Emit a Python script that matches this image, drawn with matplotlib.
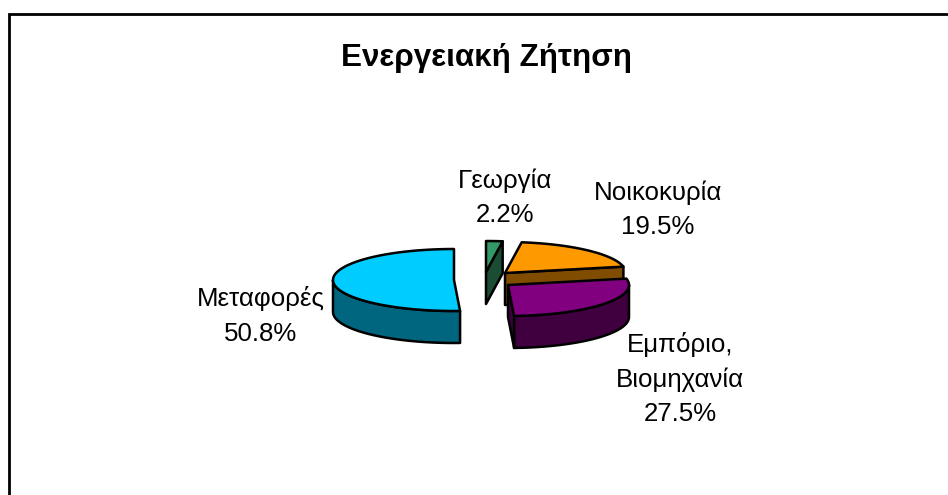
import numpy as np
import matplotlib
matplotlib.use('Agg')
import matplotlib.pyplot as plt

plt.rcParams['font.family'] = ['Liberation Sans', 'DejaVu Sans']

# order: counter-clockwise starting from the back of the pie
nombres = ['Μεταφορές', 'Εμπόριο,\nΒιομηχανία', 'Νοικοκυρία', 'Γεωργία']
valores = [50.8, 27.5, 19.5, 2.2]

colores = ['#00CCFF', '#800080', '#FF9900', '#339966']
colores_lado = ['#006680', '#400040', '#804D00', '#1A4D33']
centros = [(454, 280), (508, 285), (505, 273), (486, 272)]
pos_texto = [(261, 316), (680, 379), (658, 210), (505, 198)]

ANG_INICIO = 90
RX, RY, ALTO = 121, 31, 32


def punto(c, ang):
    a = np.radians(ang)
    return np.column_stack([c[0] + RX * np.cos(a), c[1] - RY * np.sin(a)])


def dibujar_porcion(ax, c, a0, a1, col, col_lado):
    borde = punto(c, np.linspace(a0, a1, 80))

    # outer wall, only the part facing the viewer
    a_min, a_max = max(a0, 180), min(a1, 360)
    if a_max > a_min:
        pared = punto(c, np.linspace(a_min, a_max, 60))
        abajo = pared + [0, ALTO]
        ax.fill(*np.vstack([pared, abajo[::-1]]).T, fc=col_lado, ec='black', lw=1.8, joinstyle='round')

    # cut face that looks towards the viewer
    if np.cos(np.radians(a0)) > 0.01:
        r = punto(c, a0)[0]
        cara = np.array([c, r, r + [0, ALTO], np.array(c) + [0, ALTO]])
        ax.fill(*cara.T, fc=col_lado, ec='black', lw=1.8, joinstyle='round')

    ax.fill(*np.vstack([[c], borde]).T, fc=col, ec='black', lw=1.8, joinstyle='round')


fig = plt.figure(figsize=(9.48, 4.95), dpi=100)
ax = fig.add_axes([0, 0, 1, 1])
ax.set_xlim(0, 948)
ax.set_ylim(495, 0)
ax.axis('off')

# outer frame, cropped on the right and bottom
ax.plot([9, 9, 948], [495, 14, 14], color='black', lw=2, solid_joinstyle='miter')

limites = ANG_INICIO + np.concatenate([[0], np.cumsum(valores)]) * 3.6
for i in [3, 2, 1, 0]:
    dibujar_porcion(ax, centros[i], limites[i], limites[i + 1], colores[i], colores_lado[i])

for nombre, v, p in zip(nombres, valores, pos_texto):
    ax.text(p[0], p[1], f'{nombre}\n{v:.1f}%', ha='center', va='center', fontsize=18.6,
            color='black', linespacing=1.53)

ax.text(487, 58, 'Ενεργειακή Ζήτηση', ha='center', va='center', fontsize=22.6, fontweight='bold')

fig.savefig('out.png', dpi=100)
